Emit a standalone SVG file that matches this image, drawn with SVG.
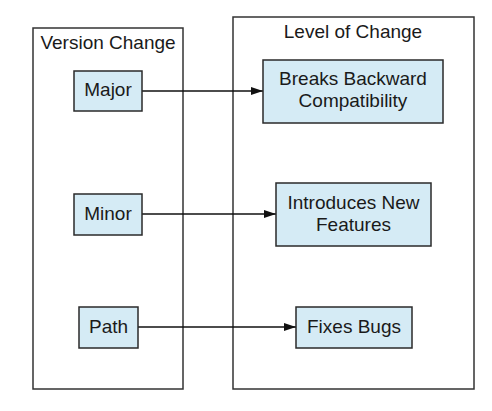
<svg xmlns="http://www.w3.org/2000/svg" width="492" height="411" viewBox="0 0 492 411">
<style>
.container{fill:#ffffff;stroke:#333333;stroke-width:1.5}
.box{fill:#d5ebf5;stroke:#2a2a2a;stroke-width:1.5}
text{font-family:"Liberation Sans",Arial,sans-serif;font-size:19px;fill:#1a1a1a;text-anchor:middle}
.conn{stroke:#111111;stroke-width:1.3;fill:none;marker-end:url(#arrow)}
</style>
<defs>
<marker id="arrow" markerWidth="12" markerHeight="8" refX="12" refY="4" orient="auto" markerUnits="userSpaceOnUse">
<path d="M0,0 L12,4 L0,8 Z" fill="#111111"/>
</marker>
</defs>
<rect width="492" height="411" fill="#ffffff"/>
<g id="version-change">
<rect class="container" x="33" y="28" width="150" height="361"/>
<text x="108" y="49">Version Change</text>
</g>
<g id="level-of-change">
<rect class="container" x="233" y="17" width="241" height="372"/>
<text x="353" y="38">Level of Change</text>
</g>
<g id="connectors">
<line class="conn" x1="142" y1="91" x2="263" y2="91"/>
<line class="conn" x1="142" y1="214" x2="276" y2="214"/>
<line class="conn" x1="138" y1="327" x2="296" y2="327"/>
</g>
<g id="major">
<rect class="box" x="74" y="71" width="68" height="40"/>
<text x="108" y="96">Major</text>
</g>
<g id="minor">
<rect class="box" x="74" y="194" width="68" height="41"/>
<text x="108" y="220">Minor</text>
</g>
<g id="path">
<rect class="box" x="79" y="307" width="59" height="41"/>
<text x="108.5" y="333">Path</text>
</g>
<g id="breaks">
<rect class="box" x="263" y="60" width="180" height="63"/>
<text x="353" y="85">Breaks Backward</text>
<text x="353" y="107">Compatibility</text>
</g>
<g id="introduces">
<rect class="box" x="276" y="183" width="155" height="63"/>
<text x="353.5" y="209">Introduces New</text>
<text x="353.5" y="231">Features</text>
</g>
<g id="fixes">
<rect class="box" x="296" y="307" width="116" height="41"/>
<text x="354" y="333">Fixes Bugs</text>
</g>
</svg>
